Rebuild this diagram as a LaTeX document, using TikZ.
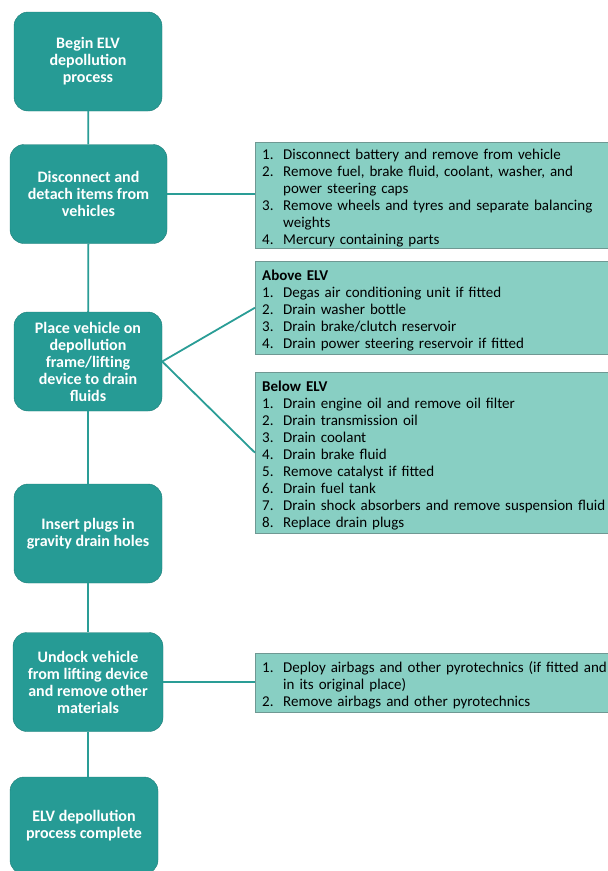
\documentclass[tikz,border=0pt]{standalone}
\usepackage{fontspec}
\setmainfont{Carlito}

\definecolor{stepteal}{HTML}{269B95}
\definecolor{stepedge}{HTML}{1E7C77}
\definecolor{listfill}{HTML}{88CFC3}
\definecolor{listedge}{HTML}{6F9893}
\definecolor{linkteal}{HTML}{2A9D96}

\newcommand{\itm}[2]{\makebox[21pt][l]{#1.}#2}
\newcommand{\cnt}[1]{\hspace*{21pt}#1}

\tikzset{
  stepbox/.style={rectangle, rounded corners=14pt, draw=stepedge, fill=stepteal, text=white,
    font=\fontsize{16}{17}\selectfont\bfseries, align=center,
    minimum width=148pt, minimum height=99pt, inner sep=2pt},
  listbox/.style={rectangle, draw=listedge, fill=listfill, font=\fontsize{15}{17}\selectfont,
    align=left, text width=420pt, inner xsep=7pt, inner ysep=1pt, anchor=north west,
    execute at begin node=\rule{0pt}{16pt}, execute at end node=\rule[-2pt]{0pt}{2pt}},
  link/.style={draw=linkteal, line width=1.8pt}
}

\begin{document}
\begin{tikzpicture}[x=1pt, y=-1pt]
        \clip (0, 0) rectangle (608, 871);

        \node[stepbox] (begin) at (88, 61.5) {Begin ELV\\depollution\\process};
        \node[stepbox, minimum width=157pt] (detach) at (88.5, 194) {Disconnect and\\detach items from\\vehicles};
        \node[stepbox] (drain) at (88, 361.5) {Place vehicle on\\depollution\\frame/lifting\\device to drain\\fluids};
        \node[stepbox] (plugs) at (88, 533.5) {Insert plugs in\\gravity drain holes};
        \node[stepbox, minimum width=150pt] (undock) at (88, 682) {Undock vehicle\\from lifting device\\and remove other\\materials};
        \node[stepbox, minimum height=97pt] (done) at (84, 825.5) {ELV depollution\\process complete};

        \node[listbox] (detachlist) at (255, 142) {\itm{1}{Disconnect battery and remove from vehicle}\\
            \itm{2}{Remove fuel, brake fluid, coolant, washer, and}\\
            \cnt{power steering caps}\\
            \itm{3}{Remove wheels and tyres and separate balancing}\\
            \cnt{weights}\\
            \itm{4}{Mercury containing parts}};
        \node[listbox, minimum height=93pt] (abovelist) at (255, 261) {\textbf{Above ELV}\\
            \itm{1}{Degas air conditioning unit if fitted}\\
            \itm{2}{Drain washer bottle}\\
            \itm{3}{Drain brake/clutch reservoir}\\
            \itm{4}{Drain power steering reservoir if fitted}};
        \node[listbox, minimum height=161pt] (belowlist) at (255, 372) {\textbf{Below ELV}\\
            \itm{1}{Drain engine oil and remove oil filter}\\
            \itm{2}{Drain transmission oil}\\
            \itm{3}{Drain coolant}\\
            \itm{4}{Drain brake fluid}\\
            \itm{5}{Remove catalyst if fitted}\\
            \itm{6}{Drain fuel tank}\\
            \itm{7}{Drain shock absorbers and remove suspension fluid}\\
            \itm{8}{Replace drain plugs}};
        \node[listbox, minimum height=59pt] (undocklist) at (255, 653) {\itm{1}{Deploy airbags and other pyrotechnics (if fitted and}\\
            \cnt{in its original place)}\\
            \itm{2}{Remove airbags and other pyrotechnics}};

        % main line
        \draw[link] (begin) -- (detach);
        \draw[link] (detach) -- (drain);
        \draw[link] (drain) -- (plugs);
        \draw[link] (plugs) -- (undock);
        \draw[link] (undock.south) -- (undock.south |- done.north);

        % side lists
        \draw[link] (detach.east) -- (detach.east -| detachlist.west);
        \draw[link] (drain.east) -- (abovelist.west);
        \draw[link] (drain.east) -- (belowlist.west);
        \draw[link] (undock.east) -- (undock.east -| undocklist.west);

    \end{tikzpicture}
\end{document}
